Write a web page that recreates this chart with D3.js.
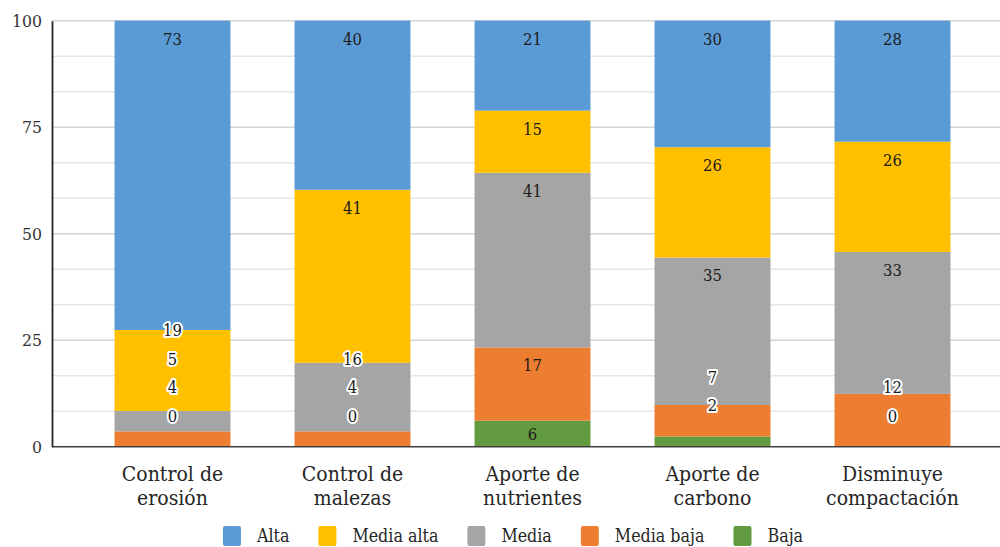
<!DOCTYPE html>
<html>
<head>
<meta charset="utf-8">
<script src="https://cdn.jsdelivr.net/npm/d3@7"></script>
<style>
  html, body { margin: 0; padding: 0; background: #fff; }
  svg { display: block; }
  svg text { font-stretch: condensed; }
</style>
</head>
<body>
<svg id="chart" width="1000" height="547"></svg>
<script>
// ---- data ----
const categories = [["Control de", "erosión"], ["Control de", "malezas"], ["Aporte de", "nutrientes"], ["Aporte de", "carbono"], ["Disminuye", "compactación"]];
const seriesNames = ["Alta", "Media alta", "Media", "Media baja", "Baja"];
const alta      = [72.6, 39.7, 21.1, 29.7, 28.4];
const mediaAlta = [19.0, 40.6, 14.6, 25.9, 25.9];
const media     = [4.8, 16.1, 41.0, 34.6, 33.3];
const mediaBaja = [3.6, 3.6, 17.2, 7.4, 12.4];
const baja      = [0, 0, 6.1, 2.4, 0];
const yTicks = [0, 25, 50, 75, 100];
const colors = ["#5B9BD5", "#FFC000", "#A5A5A5", "#ED7D31", "#629A3F"];

const FONT = "'DejaVu Serif Condensed', 'DejaVu Serif', serif";
const seriesValues = [alta, mediaAlta, media, mediaBaja, baja];
const rows = categories.map((c, i) => {
  const r = { key: i };
  seriesNames.forEach((s, j) => r[s] = seriesValues[j][i]);
  return r;
});

const svg = d3.select("#chart").attr("font-family", FONT);
const plotLeft = 52, plotRight = 1000, plotTop = 20.7, plotBottom = 446.7;

const y = d3.scaleLinear().domain([0, 100]).range([plotBottom, plotTop]);
const x = d3.scaleBand().domain(d3.range(categories.length)).range([82.5, 982.5]).paddingInner(0.356).paddingOuter(0.178);

// gridlines (every 100/12)
const gridVals = d3.range(1, 13).map(k => k * 100 / 12);
svg.append("g").selectAll("line").data(gridVals).join("line")
  .attr("x1", plotLeft).attr("x2", plotRight)
  .attr("y1", d => y(d)).attr("y2", d => y(d))
  .attr("stroke", (d, i) => ((i + 1) % 3 === 0) ? "#d4d4d4" : "#e6e6e6")
  .attr("stroke-width", 1.5);

// stacks: Baja at bottom
const stackOrder = seriesNames.slice().reverse();
const stack = d3.stack().keys(stackOrder)(rows);

const gBars = svg.append("g");
stack.forEach(layer => {
  const ci = seriesNames.indexOf(layer.key);
  gBars.append("g").attr("fill", colors[ci])
    .selectAll("rect").data(layer).join("rect")
    .attr("x", (d, i) => x(i))
    .attr("width", x.bandwidth())
    .attr("y", d => y(d[1]))
    .attr("height", d => Math.max(0, y(d[0]) - y(d[1])));
});

// axes lines
svg.append("line").attr("x1", plotLeft).attr("x2", plotRight).attr("y1", plotBottom).attr("y2", plotBottom)
  .attr("stroke", "#404040").attr("stroke-width", 1.6);
const yAxis = d3.axisLeft(y).tickValues(yTicks).tickSize(0).tickPadding(10);
const gy = svg.append("g").attr("transform", `translate(${plotLeft},0)`).call(yAxis)
  .attr("font-family", FONT).attr("font-size", 17.5);
gy.select(".domain").attr("stroke", "#262626").attr("stroke-width", 1.8);
gy.selectAll("text").attr("fill", "#333");

// data labels (inside end, with overlap avoidance upward)
const gLabels = svg.append("g").attr("font-size", 16.5).attr("text-anchor", "middle");
rows.forEach((r, i) => {
  let prevY = null;
  stackOrder.forEach((key, k) => {
    const seg = stack[k][i];
    const yTop = y(seg[1]), yBot = y(seg[0]);
    const h = yBot - yTop;
    let ly, halo = false;
    if (h >= 24) {
      ly = Math.min(yTop + 18, yBot - 13);
    } else {
      ly = yTop - 31; halo = true;
    }
    if (prevY !== null && ly > prevY - 28.5) { ly = prevY - 28.5; halo = true; }
    prevY = ly;
    const t = gLabels.append("text")
      .attr("x", x(i) + x.bandwidth() / 2)
      .attr("y", ly).attr("dy", "0.36em")
      .attr("fill", "#1a1a1a")
      .text(Math.round(r[key]));
    if (halo) t.attr("stroke", "#fff").attr("stroke-width", 4).attr("stroke-linejoin", "round").attr("paint-order", "stroke");
  });
});

// category labels
const gCat = svg.append("g").attr("font-size", 21).attr("text-anchor", "middle").attr("fill", "#262626");
categories.forEach((c, i) => {
  const t = gCat.append("text").attr("x", x(i) + x.bandwidth() / 2).attr("y", 481);
  c.forEach((line, j) => t.append("tspan").attr("x", x(i) + x.bandwidth() / 2).attr("dy", j === 0 ? 0 : 24).text(line));
});

// legend
const gLeg = svg.append("g").attr("font-size", 17.7).attr("fill", "#262626");
const items = [];
seriesNames.forEach((s, i) => {
  const g = gLeg.append("g");
  g.append("rect").attr("x", 0).attr("y", -10).attr("width", 18).attr("height", 20).attr("rx", 2).attr("fill", colors[i]);
  const t = g.append("text").attr("x", 34).attr("y", 0).attr("dy", "0.36em").text(s);
  const w = 34 + t.node().getComputedTextLength();
  items.push({ g, w });
});
const gap = 29;
const total = d3.sum(items, d => d.w) + gap * (items.length - 1);
let start = 513 - total / 2;
items.forEach(it => { it.g.attr("transform", `translate(${start},536)`); start += it.w + gap; });
</script>
</body>
</html>
